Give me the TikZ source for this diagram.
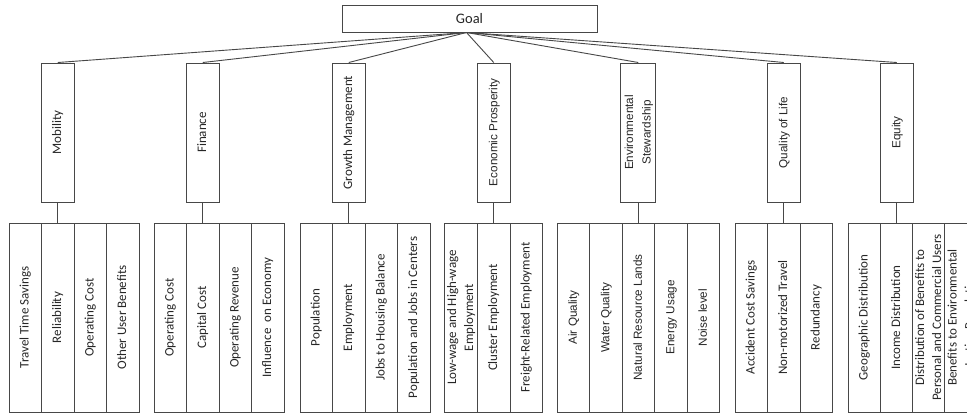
\documentclass[tikz,border=0pt]{standalone}
\usepackage{fontspec}
\usepackage{graphicx}
\newfontfamily\calfont{Carlito}
\newfontfamily\arifont{Liberation Sans}
% vertical (rotated) label, possibly on several lines
\newcommand\vtext[1]{\rotatebox{90}{\begin{tabular}{@{}c@{}}#1\end{tabular}}}

\begin{document}
\begin{tikzpicture}[x=1pt,y=-1pt,
  box/.style={draw=black!72, line width=1pt, inner sep=0pt, fill=white, text=black!85},
  goalbox/.style={box, minimum width=255pt, minimum height=27pt,
    font=\calfont\fontsize{14.5}{17}\selectfont},
  catbox/.style={box, minimum width=32.5pt, minimum height=139pt},
  leafbox/.style={box, minimum width=32.5pt, minimum height=189pt},
  cal/.style={font=\calfont\fontsize{13}{17}\selectfont},
  ari/.style={font=\arifont\fontsize{11.7}{17.5}\selectfont},
  link/.style={draw=black!72, line width=0.9pt}]

\clip (0,0) rectangle (967,413);
\fill[white] (0,0) rectangle (967,413);

% top goal
\node[goalbox] (goal) at (469.5,18.5) {Goal};

% goal categories
\node[catbox,cal] (mob)  at (57.75,132.5)  {\vtext{Mobility}};
\node[catbox,cal] (fin)  at (202.75,132.5) {\vtext{Finance}};
\node[catbox,cal] (grow) at (348.75,132.5) {\vtext{Growth Management}};
\node[catbox,ari] (econ) at (493.75,132.5) {\vtext{Economic Prosperity}};
\node[catbox,ari] (env)  at (638.25,132.5) {\vtext{Environmental\\Stewardship}};
\node[catbox,ari] (qol)  at (783.75,132.5) {\vtext{Quality of Life}};
\node[catbox,ari] (eq)   at (896.75,132.5) {\vtext{Equity}};

% Mobility measures
\node[leafbox,cal] (m1) at (25.25,317.5)  {\vtext{Travel Time Savings}};
\node[leafbox,cal] (m2) at (57.75,317.5)  {\vtext{Reliability}};
\node[leafbox,cal] (m3) at (90.25,317.5)  {\vtext{Operating Cost}};
\node[leafbox,cal] (m4) at (122.75,317.5) {\vtext{Other User Benefits}};

% Finance measures
\node[leafbox,cal] (f1) at (170.25,317.5) {\vtext{Operating Cost}};
\node[leafbox,cal] (f2) at (202.75,317.5) {\vtext{Capital Cost}};
\node[leafbox,cal] (f3) at (235.25,317.5) {\vtext{Operating Revenue}};
\node[leafbox,cal] (f4) at (267.75,317.5) {\vtext{Influence\ \ on Economy}};

% Growth Management measures
\node[leafbox,cal] (g1) at (316.25,317.5) {\vtext{Population}};
\node[leafbox,cal] (g2) at (348.75,317.5) {\vtext{Employment}};
\node[leafbox,cal] (g3) at (381.25,317.5) {\vtext{Jobs to Housing Balance}};
\node[leafbox,cal] (g4) at (413.75,317.5) {\vtext{Population and Jobs in Centers}};

% Economic Prosperity measures
\node[leafbox,cal] (e1) at (461.25,317.5) {\vtext{Low-wage and High-wage\\Employment}};
\node[leafbox,cal] (e2) at (493.75,317.5) {\vtext{Cluster Employment}};
\node[leafbox,cal] (e3) at (526.25,317.5) {\vtext{Freight-Related Employment}};

% Environmental Stewardship measures
\node[leafbox,ari] (s1) at (573.25,317.5) {\vtext{Air Quality}};
\node[leafbox,ari] (s2) at (605.75,317.5) {\vtext{Water Quality}};
\node[leafbox,ari] (s3) at (638.25,317.5) {\vtext{Natural Resource Lands}};
\node[leafbox,ari] (s4) at (670.75,317.5) {\vtext{Energy Usage}};
\node[leafbox,ari] (s5) at (703.25,317.5) {\vtext{Noise level}};

% Quality of Life measures
\node[leafbox,cal] (q1) at (751.25,317.5) {\vtext{Accident Cost Savings}};
\node[leafbox,cal] (q2) at (783.75,317.5) {\vtext{Non-motorized Travel}};
\node[leafbox,cal] (q3) at (816.25,317.5) {\vtext{Redundancy}};

% Equity measures
\node[leafbox,cal] (u1) at (864.25,317.5) {\vtext{Geographic Distribution}};
\node[leafbox,cal] (u2) at (896.75,317.5) {\vtext{Income Distribution}};
\node[leafbox,cal] (u3) at (929.25,317.5) {\vtext{Distribution of Benefits to\\Personal and Commercial Users}};
\node[leafbox,cal] (u4) at (961.75,317.5) {\vtext{Benefits to Environmental\\Justice Populations}};

% goal to categories
\foreach \c in {mob,fin,grow,econ,env,qol,eq}
  \draw[link] ([xshift=-3pt]goal.south) -- (\c.north);

% categories to their measures
\draw[link] (mob.south)  -- (m2.north);
\draw[link] (fin.south)  -- (f2.north);
\draw[link] (grow.south) -- (g2.north);
\draw[link] (econ.south) -- (e2.north);
\draw[link] (env.south)  -- (s3.north);
\draw[link] (qol.south)  -- (q2.north);
\draw[link] (eq.south)   -- (u2.north);
\end{tikzpicture}
\end{document}
